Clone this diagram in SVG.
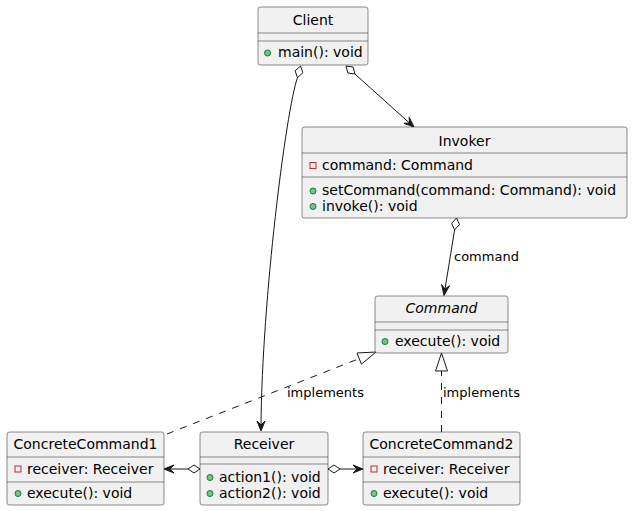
<svg xmlns="http://www.w3.org/2000/svg" width="632" height="511" viewBox="0 0 632 511">
  <style>
    .box { fill: #F1F1F1; stroke: #181818; stroke-width: 0.5; }
    .sep { stroke: #181818; stroke-width: 0.5; }
    .name { font-family: "DejaVu Sans", "Liberation Sans", sans-serif; font-size: 14px; fill: #000; text-anchor: middle; }
    .abstract { font-style: italic; }
    .member { font-family: "DejaVu Sans", "Liberation Sans", sans-serif; font-size: 14px; fill: #000; }
    .label { font-family: "DejaVu Sans", "Liberation Sans", sans-serif; font-size: 13px; fill: #000; }
    .pub { fill: #84BE84; stroke: #038048; stroke-width: 1; }
    .priv { fill: none; stroke: #C82930; stroke-width: 1; }
    .edge { fill: none; stroke: #181818; stroke-width: 1; }
    .dashed { stroke-dasharray: 7, 7; }
    .head { fill: #181818; stroke: #181818; stroke-width: 1; }
    .hollow { fill: #FFFFFF; stroke: #181818; stroke-width: 1; }
  </style>

  <!-- connectors -->
  <g id="connectors">
    <!-- Client o-> Receiver -->
    <polygon class="hollow" points="300.5,66 302.9,72.8 297.5,77.6 295.1,70.8"/>
    <path class="edge" d="M297.5,77.6 C286,110 262,300 261,425"/>
    <polygon class="head" points="257,421 261,431 265,421 261,425"/>

    <!-- Client o-> Invoker -->
    <polygon class="hollow" points="346,66 353.1,67 354.9,74 347.8,73"/>
    <path class="edge" d="M354.9,74 L410,123.5"/>
    <polygon class="head" points="403.9,123.3 414,127 409.2,117.3 409.5,123"/>

    <!-- Invoker o-> Command -->
    <polygon class="hollow" points="456.5,218 459.5,224.6 454.6,229.8 451.6,223.3"/>
    <path class="edge" d="M454.6,229.8 L445,289"/>
    <polygon class="head" points="449.5,285.7 444,295.5 441.6,284.5 445,289.1"/>
    <text class="label" x="454" y="261">command</text>

    <!-- ConcreteCommand1 ..|> Command -->
    <path class="edge dashed" d="M167,434 L359.2,358.6"/>
    <polygon class="hollow" points="376,352 361.4,364.2 357,353"/>
    <text class="label" x="287" y="397">implements</text>

    <!-- ConcreteCommand2 ..|> Command -->
    <path class="edge dashed" d="M441.5,432 L441.5,371"/>
    <polygon class="hollow" points="441.5,353 435.5,371 447.5,371"/>
    <text class="label" x="443" y="397">implements</text>

    <!-- Receiver o-> ConcreteCommand1 -->
    <polygon class="hollow" points="200,469 194,465 188,469 194,473"/>
    <path class="edge" d="M188,469 L170,469"/>
    <polygon class="head" points="174,465 164,469 174,473 170,469"/>

    <!-- Receiver o-> ConcreteCommand2 -->
    <polygon class="hollow" points="328,469 334,465 340,469 334,473"/>
    <path class="edge" d="M340,469 L357,469"/>
    <polygon class="head" points="353,465 363,469 353,473 357,469"/>
  </g>

  <!-- Client -->
  <g id="Client">
    <rect class="box" x="258" y="7" width="110" height="58" rx="2.5"/>
    <line class="sep" x1="258" y1="33" x2="368" y2="33"/>
    <line class="sep" x1="258" y1="41" x2="368" y2="41"/>
    <text class="name" x="313" y="25">Client</text>
    <circle class="pub" cx="267.5" cy="53" r="3"/>
    <text class="member" x="278" y="57">main(): void</text>
  </g>

  <!-- Invoker -->
  <g id="Invoker">
    <rect class="box" x="302" y="127" width="325" height="91" rx="2.5"/>
    <line class="sep" x1="302" y1="153" x2="627" y2="153"/>
    <line class="sep" x1="302" y1="177" x2="627" y2="177"/>
    <text class="name" x="464.5" y="145.5">Invoker</text>
    <rect class="priv" x="310" y="162.5" width="6" height="6"/>
    <text class="member" x="322" y="170">command: Command</text>
    <circle class="pub" cx="313" cy="191" r="3"/>
    <text class="member" x="322" y="195">setCommand(command: Command): void</text>
    <circle class="pub" cx="313" cy="206.5" r="3"/>
    <text class="member" x="322" y="211">invoke(): void</text>
  </g>

  <!-- Command (abstract) -->
  <g id="Command">
    <rect class="box" x="375" y="296" width="133" height="57" rx="2.5"/>
    <line class="sep" x1="375" y1="322" x2="508" y2="322"/>
    <line class="sep" x1="375" y1="330" x2="508" y2="330"/>
    <text class="name abstract" x="441.5" y="313">Command</text>
    <circle class="pub" cx="385" cy="341.5" r="3"/>
    <text class="member" x="395" y="346">execute(): void</text>
  </g>

  <!-- ConcreteCommand1 -->
  <g id="ConcreteCommand1">
    <rect class="box" x="7" y="432" width="157" height="73" rx="2.5"/>
    <line class="sep" x1="7" y1="457" x2="164" y2="457"/>
    <line class="sep" x1="7" y1="482" x2="164" y2="482"/>
    <text class="name" x="85.5" y="449">ConcreteCommand1</text>
    <rect class="priv" x="15" y="466" width="6" height="6"/>
    <text class="member" x="27" y="474">receiver: Receiver</text>
    <circle class="pub" cx="18" cy="493.5" r="3"/>
    <text class="member" x="27" y="498">execute(): void</text>
  </g>

  <!-- Receiver -->
  <g id="Receiver">
    <rect class="box" x="200" y="432" width="128" height="73" rx="2.5"/>
    <line class="sep" x1="200" y1="457" x2="328" y2="457"/>
    <line class="sep" x1="200" y1="464" x2="328" y2="464"/>
    <text class="name" x="264" y="449">Receiver</text>
    <circle class="pub" cx="210" cy="477.5" r="3"/>
    <text class="member" x="219" y="482">action1(): void</text>
    <circle class="pub" cx="210" cy="493.5" r="3"/>
    <text class="member" x="219" y="498">action2(): void</text>
  </g>

  <!-- ConcreteCommand2 -->
  <g id="ConcreteCommand2">
    <rect class="box" x="363" y="432" width="157" height="73" rx="2.5"/>
    <line class="sep" x1="363" y1="457" x2="520" y2="457"/>
    <line class="sep" x1="363" y1="482" x2="520" y2="482"/>
    <text class="name" x="441.5" y="449">ConcreteCommand2</text>
    <rect class="priv" x="371" y="466" width="6" height="6"/>
    <text class="member" x="383" y="474">receiver: Receiver</text>
    <circle class="pub" cx="374" cy="493.5" r="3"/>
    <text class="member" x="383" y="498">execute(): void</text>
  </g>
</svg>
